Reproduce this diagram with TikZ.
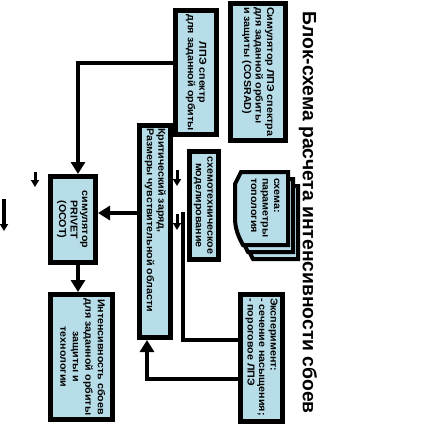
\documentclass[tikz,border=0pt]{standalone}
\usepackage{fontspec}
\setmainfont{Liberation Sans}
\usepackage{graphicx}
\usetikzlibrary{arrows.meta,calc}
\definecolor{boxblue}{RGB}{183,221,232}
\newcommand\rtxtx[4]{\rotatebox{-90}{\scalebox{1.07}[1]{\makebox[\dimexpr #1*100/107\relax][#2]{\fontsize{10}{#3}\selectfont\bfseries\begin{tabular}{@{}#2@{}}#4\end{tabular}}}}}
\newcommand\rtxt[3]{\rtxtx{#1}{#2}{11.5pt}{#3}}
\begin{document}
\begin{tikzpicture}[x=1pt,y=-1pt,
 box/.style={draw, line width=5pt, fill=boxblue, inner sep=0pt},
 conn/.style={line width=4.5pt},
 tip/.style={-{Triangle[length=12pt,width=14pt]}},
 smalltip/.style={-{Triangle[length=7pt,width=8pt]}}]
\useasboundingbox (0,0) rectangle (429,437);

\node[rotate=-90, font=\fontsize{19.3}{22}\selectfont\bfseries] (title) at (308,212.5) {Блок-схема расчета интенсивности сбоев};

\node[box, minimum width=55pt, minimum height=137pt] (cosrad) at (258,72) {\rtxt{130pt}{l}{Симулятор ЛПЭ спектра\\для заданной орбиты\\и защиты (COSRAD)}};
\node[box, minimum width=41pt, minimum height=124pt] (lpe) at (196,72.5) {\rtxt{120pt}{c}{ЛПЭ спектр\\для заданной орбиты}};
\node[box, minimum width=31pt, minimum height=212pt] (crit) at (155,231.5) {\rtxt{207pt}{l}{Критический заряд,\\Размеры чувствительной области}};
\node[box, minimum width=29pt, minimum height=108pt] (schem) at (204,205.5) {\rtxt{104pt}{c}{схемотехническое\\моделирование}};
\node[box, minimum width=42pt, minimum height=127pt] (exp) at (261.5,358) {\rtxt{120pt}{l}{Эксперимент:\\- сечение насыщения;\\- пороговое ЛПЭ}};
\node[box, minimum width=45pt, minimum height=86pt] (privet) at (73,219.5) {\rtxt{80pt}{c}{симулятор\\PRIVET\\(ОСОТ)}};
\node[box, minimum width=62pt, minimum height=125pt] (inten) at (81.5,357) {\rtxtx{120pt}{c}{12.5pt}{Интенсивность сбоев\\для заданной орбиты\\защиты и\\технологии}};

\foreach \s in {10,5,0}{
\draw[line width=4pt, fill=boxblue, shift={(\s,1.4*\s)}] (241,172) -- (288,172) -- (288,245) -- (243,245) .. controls (238,236) and (235,228) .. (235,218) -- (235,184) -- cycle;
}
\node (doct) at (265,209) {\rtxt{62pt}{l}{схема:\\параметры\\топология}};

\draw[conn,tip] ([yshift=9.5pt]lpe.west) -| ([xshift=5pt]privet.north);
\coordinate (pe) at ($(privet.east)+(0,-6.5)$);
\draw[conn,tip] (pe -| crit.west) -- (pe);
\coordinate (ps) at ($(privet.south)+(5,0)$);
\draw[conn,tip] (ps) -- (ps |- inten.north);
\coordinate (e1) at ($(exp.west)+(0,-18)$);
\coordinate (t1) at (183,212);
\draw[conn] (e1) -| (t1);
\coordinate (e2) at ($(exp.west)+(0,21)$);
\coordinate (cs) at ($(crit.south)+(-8,0)$);
\draw[conn,tip] (e2) -| (cs);

\coordinate (a1s) at (177,170); \coordinate (a1e) at (177,186);
\draw[line width=3pt, smalltip] (a1s) -- (a1e);
\coordinate (a2s) at (177,214); \coordinate (a2e) at (177,230);
\draw[line width=3pt, smalltip] (a2s) -- (a2e);
\coordinate (a3s) at (35,172); \coordinate (a3e) at (35,187);
\draw[line width=3pt, smalltip] (a3s) -- (a3e);
\coordinate (a4s) at (4,199); \coordinate (a4e) at (4,231);
\draw[line width=3.5pt, smalltip] (a4s) -- (a4e);
\end{tikzpicture}
\end{document}
